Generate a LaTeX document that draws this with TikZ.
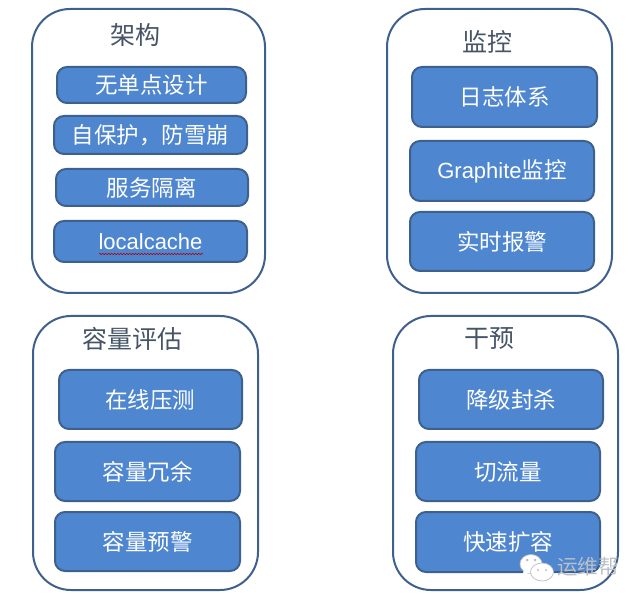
\documentclass[tikz,border=0pt]{standalone}
\usepackage{fontspec}
\setmainfont{Liberation Sans}
\newfontfamily\cjk{Noto Sans CJK SC}
\usetikzlibrary{decorations.pathmorphing}
\definecolor{edgeblue}{RGB}{62,96,140}
\definecolor{fillblue}{RGB}{79,134,208}
\definecolor{titleink}{RGB}{70,84,104}
\definecolor{markgray}{RGB}{188,192,198}
\tikzset{
  x=1pt,y=-1pt,
  panel/.style={draw=edgeblue,line width=2pt,rounded corners=38pt,fill=white},
  item/.style={draw=edgeblue,line width=2pt,rounded corners=10pt,outer sep=0pt,fill=fillblue,text=white,font=\fontsize{22.5}{25}\selectfont\cjk},
  heading/.style={text=titleink,font=\fontsize{25}{28}\selectfont\cjk},
  bubble/.style={draw=markgray,line width=.7pt,fill=white},
  eye/.style={fill=markgray,circle,inner sep=0pt,minimum size=3pt},
}
\newcommand{\latintext}[1]{{\normalfont\fontsize{22}{25}\selectfont #1}}
\newcommand{\panelbox}[5]{\draw[panel] (#2,#3) rectangle (#4,#5) node[midway,inner sep=0pt] (#1) {};}
\newcommand{\itembox}[6]{\node[item,anchor=north west,inner sep=0pt,text width=#4pt-#2pt-2pt,align=center,minimum height=#5pt-#3pt-2pt] (#1) at (#2+1,#3+1) {#6};}
\begin{document}
\begin{tikzpicture}
\useasboundingbox (0,0) rectangle (640,601);
\fill[white] (0,0) rectangle (640,601);
\panelbox{pa}{32}{9}{265}{293}
\panelbox{pb}{387}{9}{612}{293}
\panelbox{pc}{33}{316}{258}{590}
\panelbox{pd}{393}{316}{618}{590}
\node[heading] (ta) at (135,35) {架构};
\node[heading] (tb) at (487,42) {监控};
\node[heading] (tc) at (132,339) {容量评估};
\node[heading] (td) at (489,339) {干预};
\itembox{a1}{56}{66}{247}{104}{无单点设计}
\itembox{a2}{53}{115}{248}{155}{自保护，防雪崩}
\itembox{a3}{55}{168}{249}{207}{服务隔离}
\itembox{a4}{53}{220}{248}{263}{\latintext{localcache}}
\itembox{b1}{411}{66}{598}{128}{日志体系}
\itembox{b2}{409}{140}{595}{202}{\latintext{Graphite}监控}
\itembox{b3}{409}{211}{595}{272}{实时报警}
\itembox{c1}{58}{369}{243}{430}{在线压测}
\itembox{c2}{54}{441}{241}{502}{容量冗余}
\itembox{c3}{54}{511}{241}{572}{容量预警}
\itembox{d1}{418}{369}{604}{430}{降级封杀}
\itembox{d2}{415}{441}{601}{502}{切流量}
\itembox{d3}{415}{511}{601}{573}{快速扩容}
\coordinate (sqa) at (99,254);
\coordinate (sqb) at (203,254);
\draw[red!70!black,line width=.6pt,decorate,decoration={zigzag,amplitude=.7pt,segment length=3pt}] (sqa) -- (sqb);
\draw[bubble] (531,564) ellipse (11 and 9.5);
\fill[bubble,draw=none] (524,570) -- (522,576) -- (530,572) -- cycle;
\draw[bubble] (542,572) ellipse (11.5 and 9);
\node[eye] (e1) at (527,560) {};
\node[eye] (e2) at (535,560) {};
\node[eye,minimum size=2.4pt] (e3) at (538,570) {};
\node[eye,minimum size=2.4pt] (e4) at (546,570) {};
\node[text=markgray,font=\fontsize{20.5}{22}\selectfont\cjk,inner sep=0pt] (wm) at (588,567) {运维帮};
\end{tikzpicture}
\end{document}
